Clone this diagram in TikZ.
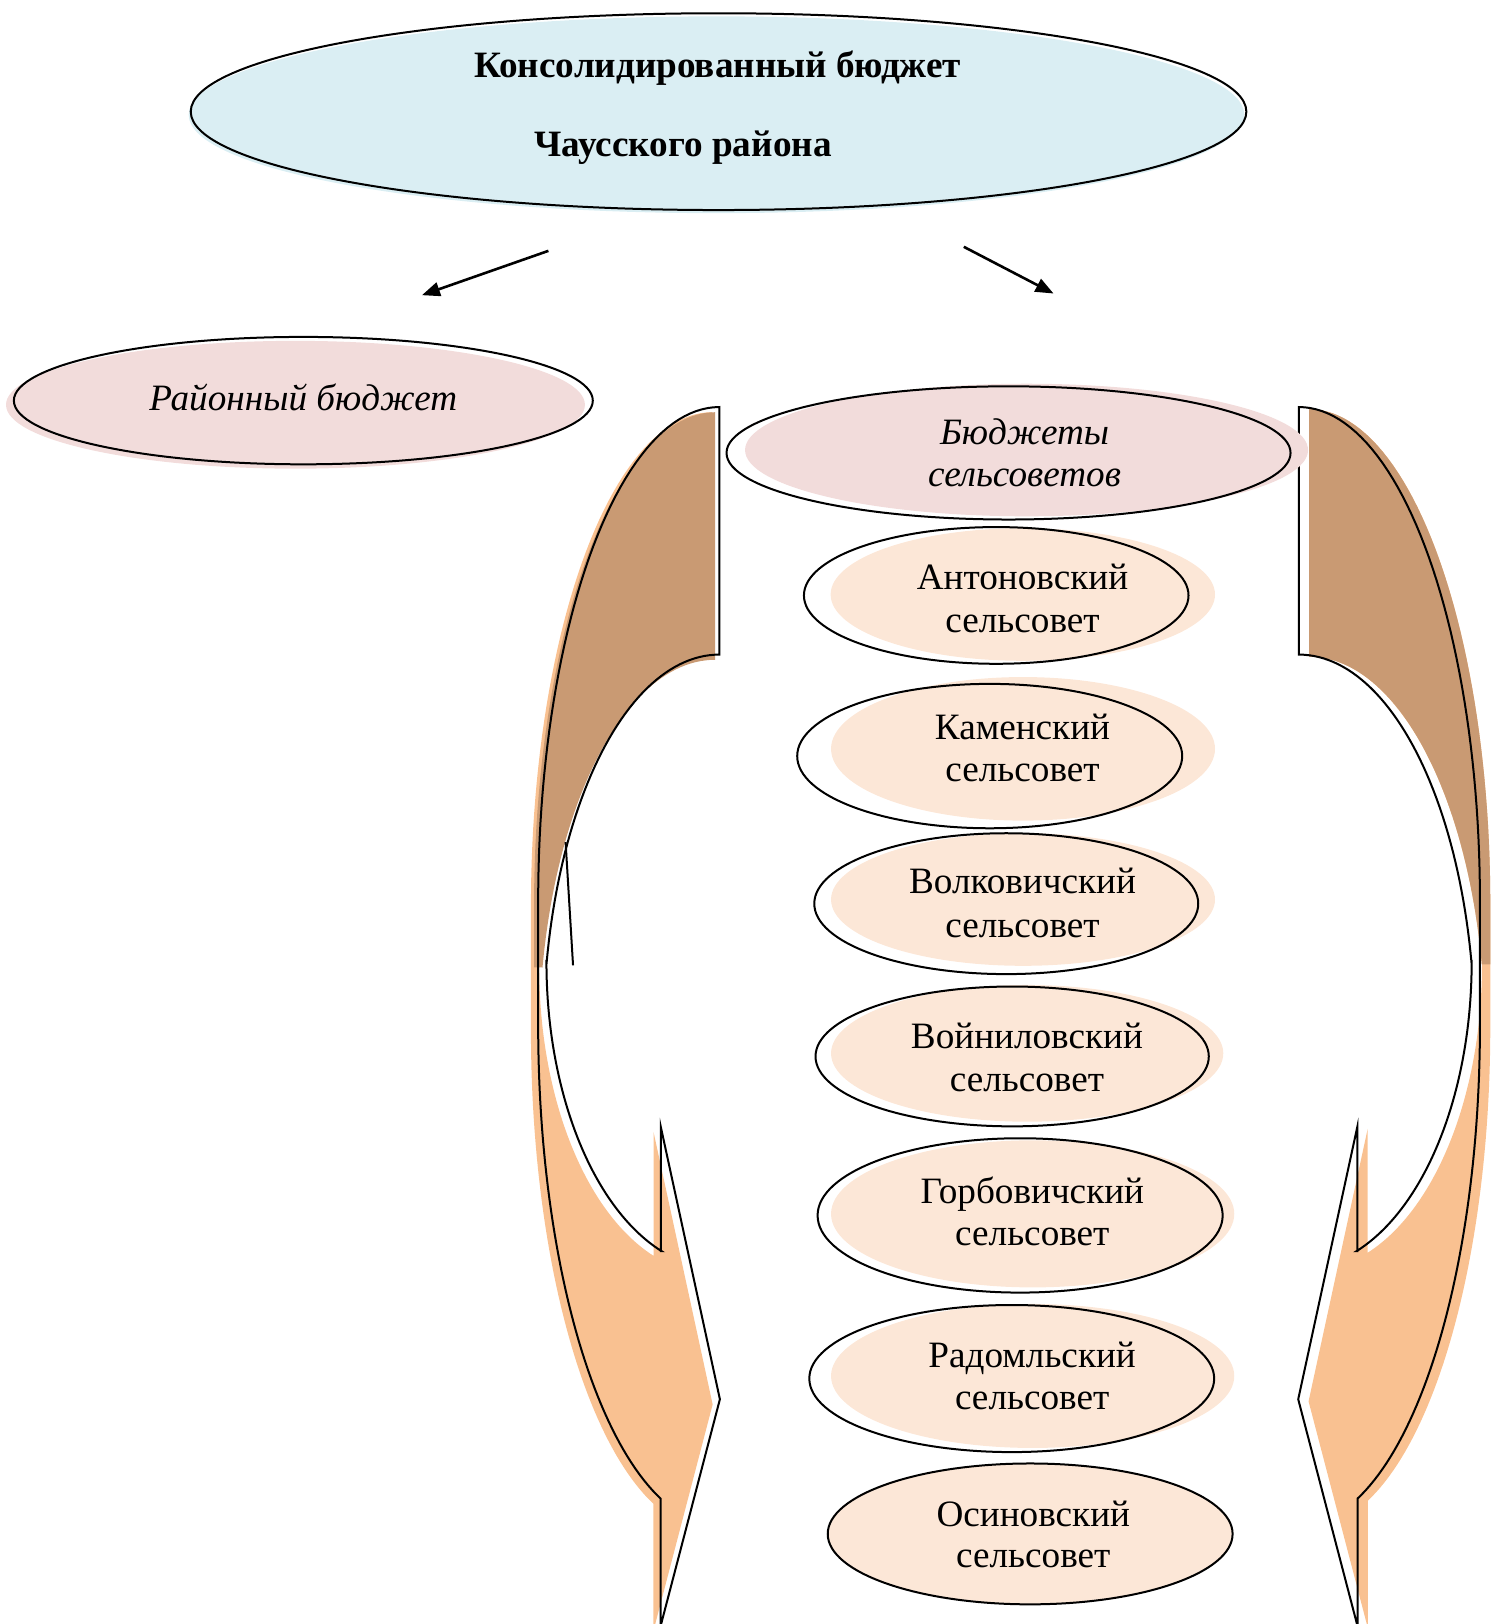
\documentclass[tikz,border=0pt]{standalone}
\usepackage{fontspec}
\setmainfont{Liberation Serif}
\usetikzlibrary{arrows.meta,shapes.geometric}
\definecolor{cblue}{HTML}{DAEEF3}
\definecolor{cpink}{HTML}{F2DCDB}
\definecolor{cpeach}{HTML}{FCE7D7}
\definecolor{corange}{HTML}{F9C191}
\definecolor{cbrown}{HTML}{C99A73}
\newcommand\lblfont{\fontsize{18.6}{22}\selectfont}
\newcommand\braceoutline{(695,393)
  -- plot[domain=0:90,samples=50,variable=\t] ({695+175*cos(270-\t)},{870+477*sin(270-\t)})
  -- (520,990)
  -- plot[domain=0:71.1,samples=50,variable=\t] ({695+175*cos(180-\t)},{990+483*sin(180-\t)})
  -- (638.3,1570) -- (695.6,1351) -- (638.5,1088) -- (638.5,1208)
  -- plot[domain=0:70.5,samples=50,variable=\t] ({695+167*cos(109.5+\t)},{929+296*sin(109.5+\t)})
  -- plot[domain=0:78.9,samples=50,variable=\t] ({695+170*cos(191.1+\t)},{1000+368*sin(191.1+\t)})
  -- cycle}
\newcommand\braceback{(695,393)
  -- plot[domain=0:90,samples=50,variable=\t] ({695+175*cos(270-\t)},{870+477*sin(270-\t)})
  -- (520,929) -- (528.2,929)
  -- plot[domain=0:78.9,samples=50,variable=\t] ({695+170*cos(191.1+\t)},{1000+368*sin(191.1+\t)})
  -- cycle}
\tikzset{
  ell/.style 2 args={shape=ellipse, draw=black, line width=1pt, inner sep=0pt, outer sep=0pt,
    minimum width={2*#1*0.5175pt}, minimum height={2*#2*0.5179pt}},
  fel/.style 2 args={shape=ellipse, inner sep=0pt, outer sep=0pt,
    minimum width={2*#1*0.5175pt}, minimum height={2*#2*0.5179pt}},
  lbl/.style={anchor=base, inner sep=0pt, font=\lblfont},
  outl/.style={draw=black, line width=1pt},
  arr/.style={line width=1.3pt, -{Triangle[length=9pt,width=7pt]}}
}
\begin{document}
\begin{tikzpicture}[x=0.5175pt,y=-0.5179pt]
\useasboundingbox (0,0) rectangle (1440,1568);
% braces: left
\begin{scope}[shift={(-7,5)}] \fill[corange] \braceoutline; \end{scope}
\begin{scope}[shift={(-4,5)}] \fill[cbrown] \braceback; \end{scope}
\draw[outl] \braceoutline;
\draw[outl] (546.5,813) -- (553.7,932);
% braces: right (mirror)
\begin{scope}[shift={(1950,0)},xscale=-1]
  \begin{scope}[shift={(-10,2)}] \fill[corange] \braceoutline; \end{scope}
  \begin{scope}[shift={(-10,2)}] \fill[cbrown] \braceback; \end{scope}
  \draw[outl] \braceoutline;
\end{scope}
% fills
\node[fel={510}{95}, fill=cblue] (f0) at (692.3,110.8) {};
\node[fel={279.7}{61.7}, fill=cpink] (fl) at (285.5,390.8) {};
\node[fel={272}{64}, fill=cpink] (fs) at (991.9,434.5) {};
\node[fel={185.7}{64}, fill=cpeach] (f1) at (988.3,574) {};
\node[fel={185.5}{69.3}, fill=cpeach] (f2) at (988.5,723) {};
\node[fel={185.5}{64}, fill=cpeach] (f3) at (988.5,868.5) {};
\node[fel={189.5}{66}, fill=cpeach] (f4) at (992.5,1017) {};
\node[fel={194.8}{71}, fill=cpeach] (f5) at (997.8,1172) {};
\node[fel={194.8}{69.5}, fill=cpeach] (f6) at (997.8,1328.5) {};
\node[fel={195.6}{68}, fill=cpeach] (f7) at (995.4,1481) {};
% outlines
\node[ell={510}{95}] (top) at (694.3,107.8) {};
\node[ell={279.7}{61.5}] (rb) at (293.1,386.8) {};
\node[ell={272.5}{64.3}] (sb) at (974.5,437.3) {};
\node[ell={185.8}{66}] (e1) at (962.6,574.9) {};
\node[ell={186}{69.7}] (e2) at (956.3,730) {};
\node[ell={185.5}{68}] (e3) at (972.3,872.5) {};
\node[ell={190}{67.5}] (e4) at (978,1020) {};
\node[ell={195.7}{74.5}] (e5) at (985.7,1173.5) {};
\node[ell={195.6}{71}] (e6) at (977.6,1331) {};
\node[ell={195.6}{68}] (e7) at (995.4,1481) {};
% arrows
\coordinate (la) at (529.9,242.2);
\coordinate (lb) at (407.7,285);
\coordinate (ra) at (931.3,238.3);
\coordinate (rb2) at (1018,283.4);
\draw[arr] (la) -- (lb);
\draw[arr] (ra) -- (rb2);
% texts
\node[lbl, font=\lblfont\bfseries] (t0a) at (693.5,74.7) {Консолидированный бюджет};
\node[lbl, font=\lblfont\bfseries] (t0b) at (660,150.7) {Чаусского района};
\node[lbl, font=\lblfont\itshape] (tl) at (293,396.8) {Районный бюджет};
\node[lbl, font=\lblfont\itshape] (tsa) at (990,429) {Бюджеты};
\node[lbl, font=\lblfont\itshape] (tsb) at (990,470) {сельсоветов};
\node[lbl] (t1a) at (988,569.4) {Антоновский};
\node[lbl] (t1b) at (988,610.3) {сельсовет};
\node[lbl] (t2a) at (988,714) {Каменский};
\node[lbl] (t2b) at (988,755) {сельсовет};
\node[lbl] (t3a) at (988,863) {Волковичский};
\node[lbl] (t3b) at (988,905) {сельсовет};
\node[lbl] (t4a) at (992.3,1012) {Войниловский};
\node[lbl] (t4b) at (992.3,1054) {сельсовет};
\node[lbl] (t5a) at (997.5,1162) {Горбовичский};
\node[lbl] (t5b) at (997.5,1203) {сельсовет};
\node[lbl] (t6a) at (997.3,1320.5) {Радомльский};
\node[lbl] (t6b) at (997.3,1360.7) {сельсовет};
\node[lbl] (t7a) at (998.4,1473.5) {Осиновский};
\node[lbl] (t7b) at (998.4,1513.7) {сельсовет};
\end{tikzpicture}
\end{document}
